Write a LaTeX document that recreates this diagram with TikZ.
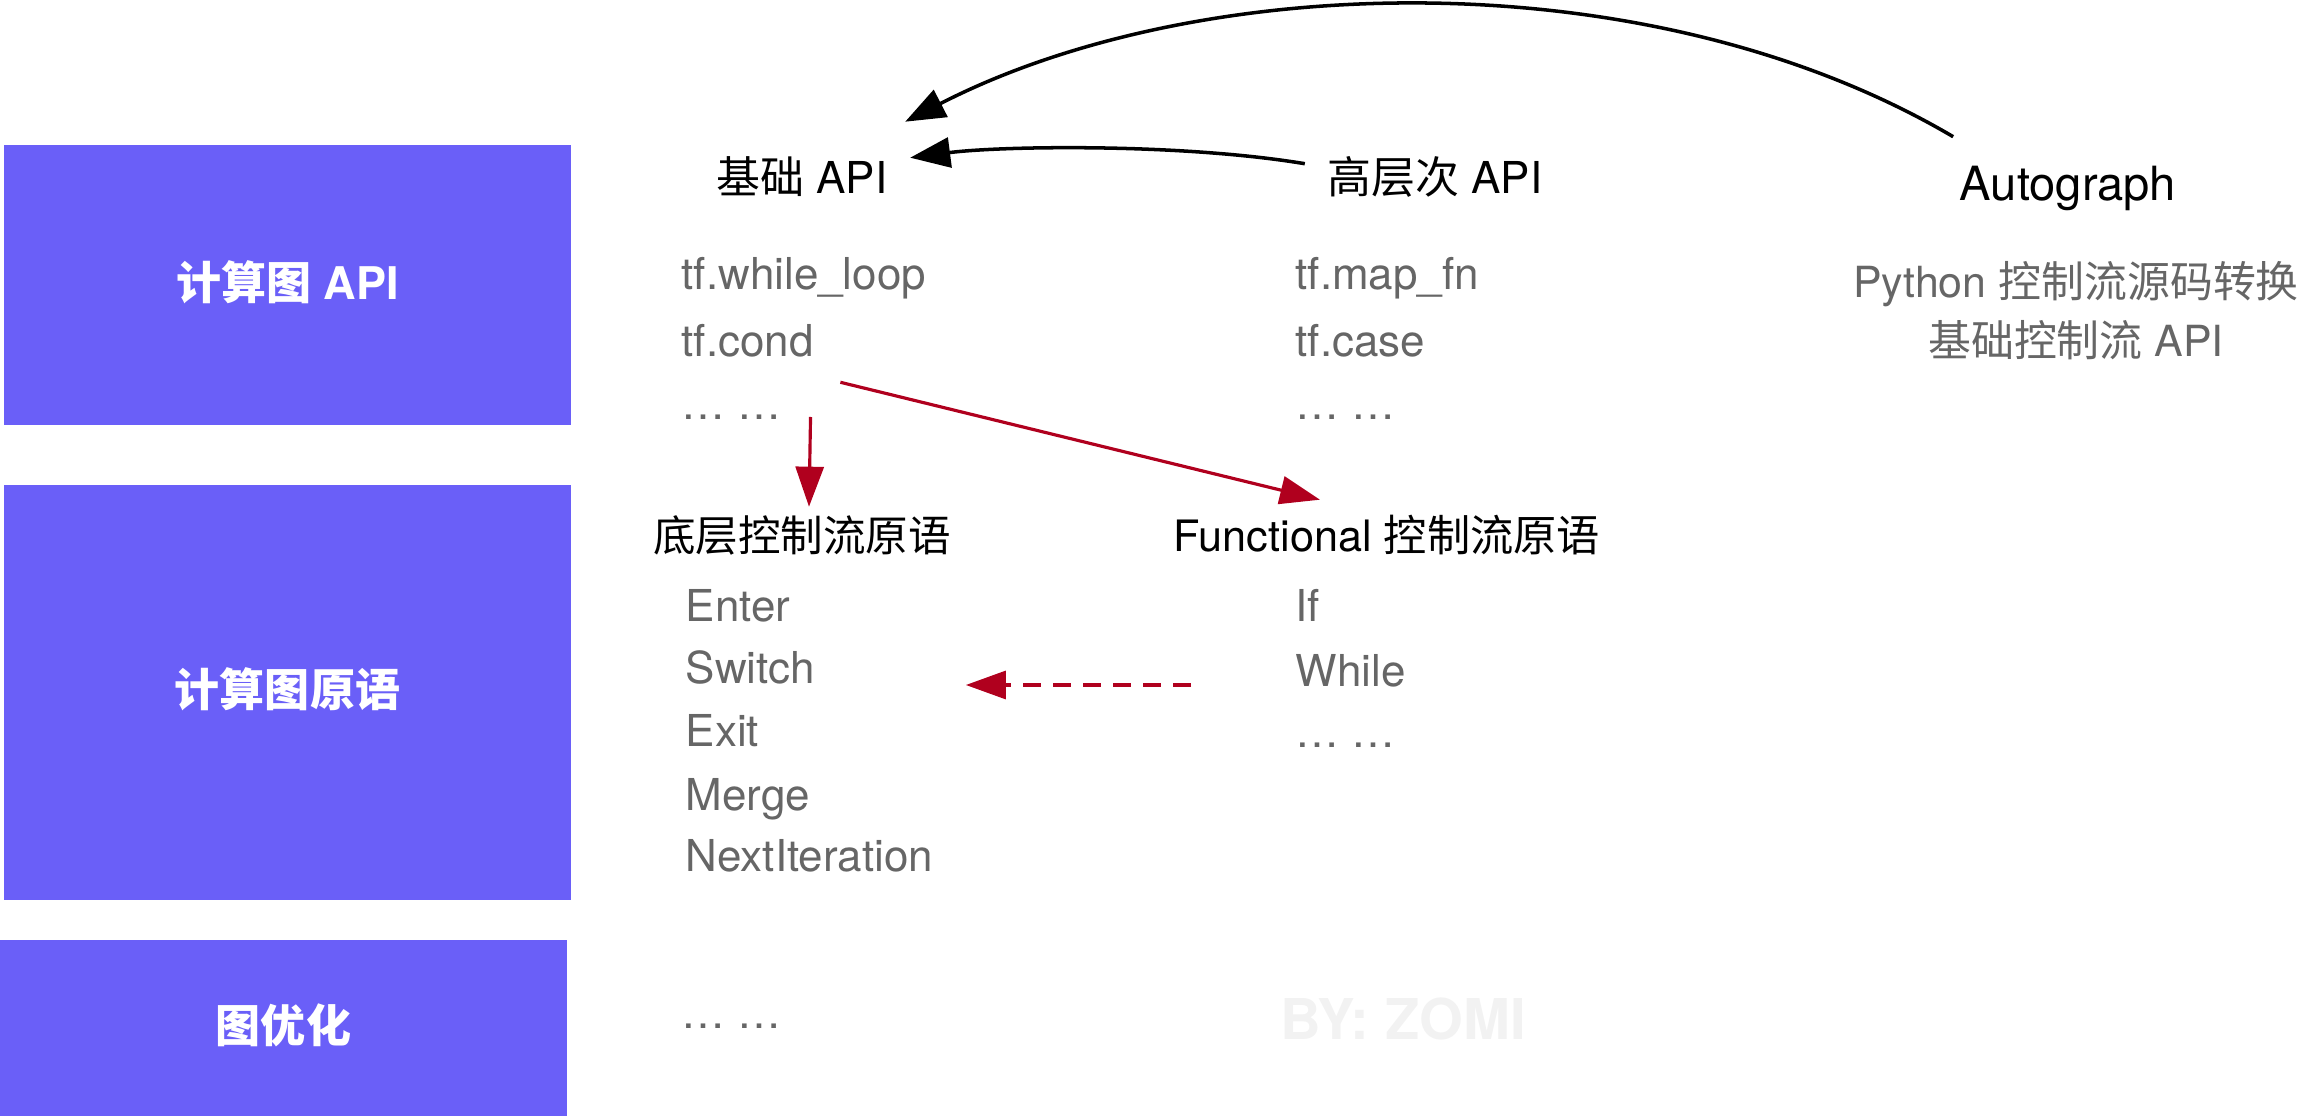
\documentclass[tikz,border=0pt]{standalone}
\usepackage{fontspec}
\setmainfont{TeX Gyre Heros}
\newfontfamily\cjk{Noto Sans CJK SC}
\usetikzlibrary{calc,arrows.meta}
\usepackage{xcolor}
\definecolor{layerblue}{RGB}{106,95,248}
\definecolor{flowred}{RGB}{176,0,30}
\definecolor{textgray}{RGB}{102,102,102}

\begin{document}
\begin{tikzpicture}[x=0.01cm,y=-0.01cm,
  every node/.style={font=\fontsize{12.5}{15}\selectfont, inner sep=0pt,
    text height=0.9em, text depth=0.1em},
  layer/.style={fill=layerblue, text=white,
    font=\fontsize{12.8}{15}\selectfont\bfseries, minimum width=5.67cm},
  item/.style={text=textgray, anchor=west},
  apiarrow/.style={line width=1pt, -{Triangle[length=0.4cm,width=0.3cm]}},
  redarrow/.style={flowred, line width=0.9pt, -{Triangle[length=0.4cm,width=0.28cm]}}]

  \useasboundingbox (0,0) rectangle (2320,1116);

  % Layer boxes on the left
  \node[layer, minimum height=2.8cm]  (graphapi)  at (287.5,285)  {{\cjk 计算图} API};
  \node[layer, minimum height=4.15cm] (graphprim) at (287.5,692.5) {\cjk 计算图原语};
  \node[layer, minimum height=1.76cm] (graphopt)  at (283.5,1028) {\cjk 图优化};

  % API headers
  \node (basicapi)  at (802,179)  {{\cjk 基础} API};
  \node (highapi)   at (1435,179) {{\cjk 高层次} API};
  \node[font=\fontsize{13.4}{16}\selectfont] (autograph) at (2068,186) {Autograph};

  % API items
  \node[item] (whileloop) at (681,275) {tf.while\_loop};
  \node[item] (tfcond)    at (681,342) {tf.cond};
  \node[item] (apidots)   at (681,405) {…~…};
  \node[item] (mapfn)     at (1295,275) {tf.map\_fn};
  \node[item] (tfcase)    at (1295,342) {tf.case};
  \node[item] (highdots)  at (1295,405) {…~…};
  \node[text=textgray, font=\fontsize{12.2}{15}\selectfont] (pysrc)   at (2076,283) {Python {\cjk 控制流源码转换}};
  \node[text=textgray, font=\fontsize{12.2}{15}\selectfont] (basicfl) at (2076,342) {{\cjk 基础控制流} API};

  % Primitive headers
  \node[font=\fontsize{12.1}{15}\selectfont] (lowprim)  at (802,537)  {\cjk 底层控制流原语};
  \node[font=\fontsize{12.3}{15}\selectfont] (funcprim) at (1387,537) {Functional {\cjk 控制流原语}};

  % Primitive items
  \node[item] (enter)   at (685,607) {Enter};
  \node[item] (switch)  at (685,669) {Switch};
  \node[item] (exit)    at (685,732) {Exit};
  \node[item] (merge)   at (685,796) {Merge};
  \node[item] (nextit)  at (685,857) {NextIteration};
  \node[item] (ifop)    at (1295,607) {If};
  \node[item] (whileop) at (1295,672) {While};
  \node[item] (funcdots) at (1295,733) {…~…};

  % Graph optimisation row
  \node[item] (optdots) at (681,1014) {…~…};
  \node[text=black!5, font=\fontsize{16}{18}\selectfont\bfseries] (mark) at (1403,1025) {BY: ZOMI};

  % Black arrows into the basic API
  \draw[apiarrow] ($(autograph.north west)+(-6,-31)$)
    .. controls (1650,-42) and (1200,-30) .. ($(basicapi.north east)+(17,-39)$);
  \draw[apiarrow] ($(highapi.north west)+(-22,3)$)
    .. controls (1180,143) and (1000,146) .. ($(basicapi.north east)+(22,-3)$);

  % Red arrows down to the primitives
  \draw[redarrow] ($(apidots.east)+(28,12)$) -- ($(lowprim.north)+(7,-12)$);
  \draw[redarrow] ($(tfcond.south east)+(26,22)$) -- ($(funcprim.north)+(-67,-19)$);
  \draw[redarrow, dash pattern=on 0.18cm off 0.12cm]
    ($(whileop.west)+(-104,13)$) -- ($(switch.east)+(150,16)$);

\end{tikzpicture}
\end{document}
